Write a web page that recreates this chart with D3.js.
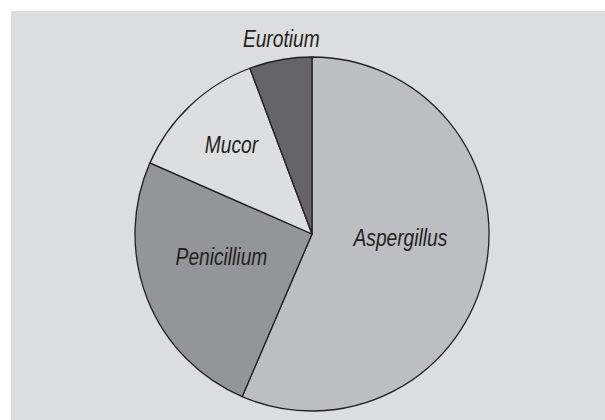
<!DOCTYPE html>
<html>
<head>
<meta charset="utf-8">
<script src="https://cdn.jsdelivr.net/npm/d3@7"></script>
<style>
    html, body { margin: 0; padding: 0; background: #ffffff; }
    svg { display: block; }
    .label { font-family: "Liberation Sans", Arial, sans-serif; font-style: italic; fill: #231f20; }
</style>
</head>
<body>
<div id="chart"></div>
<script>
// fungal genera, share of isolates (%)
const genera = ['Aspergillus', 'Penicillium', 'Mucor', 'Eurotium'];
const shares = [56.4, 25.1, 12.7, 5.7];
const fills = ['#bdbec1', '#949598', '#dddee0', '#656568'];

const width = 605, height = 420;
const cx = 312, cy = 234, radius = 177;

const svg = d3.select('#chart')
    .append('svg')
    .attr('width', width)
    .attr('height', height);

// grey panel
svg.append('rect')
    .attr('x', 11)
    .attr('y', 11)
    .attr('width', width - 11)
    .attr('height', height - 11)
    .attr('fill', '#dcdddf');

const data = genera.map((g, i) => ({ name: g, value: shares[i], fill: fills[i] }));

const pie = d3.pie()
    .sort(null)
    .value(d => d.value);

const arc = d3.arc()
    .innerRadius(0)
    .outerRadius(radius);

const g = svg.append('g')
    .attr('transform', `translate(${cx},${cy})`);

const arcs = pie(data);

g.selectAll('path')
    .data(arcs)
    .enter()
    .append('path')
    .attr('d', arc)
    .attr('fill', d => d.data.fill)
    .attr('stroke', '#231f20')
    .attr('stroke-width', 1.3)
    .attr('stroke-linejoin', 'round');

// label placement: radius as fraction of the pie, small nudges
const labelRadius = [0.51, 0.55, 0.67, 1.1];
const nudge = [[0, -14.5], [0, -13.5], [1, -3.5], [4, -4]];

g.selectAll('.label')
    .data(arcs)
    .enter()
    .append('text')
    .attr('class', 'label')
    .attr('text-anchor', 'middle')
    .attr('font-size', 24)
    .attr('transform', function (d, i) {
        const a = (d.startAngle + d.endAngle) / 2;
        const rr = radius * labelRadius[i];
        const x = Math.sin(a) * rr + nudge[i][0];
        const y = -Math.cos(a) * rr + nudge[i][1];
        return `translate(${x},${y}) scale(0.8,1)`;
    })
    .attr('dy', '0.35em')
    .text(d => d.data.name);
</script>
</body>
</html>
